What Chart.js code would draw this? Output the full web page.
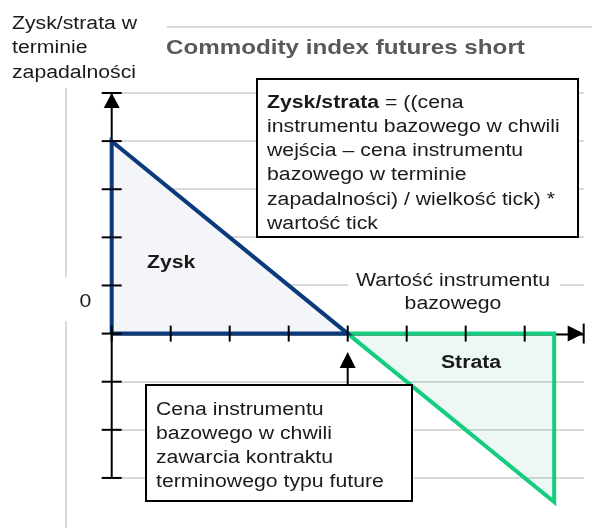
<!DOCTYPE html>
<html>
<head>
<meta charset="utf-8">
<script src="https://cdn.jsdelivr.net/npm/chart.js@4/dist/chart.umd.min.js"></script>
<style>
  html, body { margin: 0; padding: 0; background: #fff; }
  canvas { display: block; }
</style>
</head>
<body>
<canvas id="c" width="594" height="528"></canvas>
<script>
// values
const xTicks = [0, 1, 2, 3, 4, 5, 6, 7, 8];
const yTicks = [-3, -2, -1, 0, 1, 2, 3, 4, 5];
const zyskX = [0, 0, 4, 0];
const zyskY = [0, 4, 0, 0];
const strataX = [4, 7.5, 7.5, 4];
const strataY = [0, 0, -3.5, 0];
const zeroLabel = '0';
const entryPrice = 4; // x of the entry price arrow

const titleText = 'Commodity index futures short';
const yTitle = ['Zysk/strata w', 'terminie', 'zapadalności'];
const xTitle = ['Wartość instrumentu', 'bazowego'];
const formulaBold = 'Zysk/strata';
const formulaLines = [' = ((cena', 'instrumentu bazowego w chwili', 'wejścia – cena instrumentu',
  'bazowego w terminie', 'zapadalności) / wielkość tick) *', 'wartość tick'];
const entryLines = ['Cena instrumentu', 'bazowego w chwili', 'zawarcia kontraktu', 'terminowego typu future'];

const FONT = "'Liberation Sans', Arial, sans-serif";
const SX = 1.18; // the picture is stretched a bit wide
const INK = '#1a1a1a';
const GRID = '#d9d9d9';

function pts(xs, ys) { return xs.map((x, i) => ({x, y: ys[i]})); }

function txt(ctx, s, x, y, size, bold, color, align) {
    ctx.save();
    ctx.font = (bold ? 'bold ' : '') + size + 'px ' + FONT;
    const w = ctx.measureText(s).width * SX;
    let x0 = x;
    if (align === 'center') x0 = x - w / 2;
    ctx.translate(x0, y);
    ctx.scale(SX, 1);
    ctx.fillStyle = color || INK;
    ctx.textBaseline = 'alphabetic';
    ctx.fillText(s, 0, 0);
    ctx.restore();
    return w;
}

function line(ctx, x1, y1, x2, y2, color, w) {
    ctx.beginPath();
    ctx.moveTo(x1, y1);
    ctx.lineTo(x2, y2);
    ctx.strokeStyle = color;
    ctx.lineWidth = w;
    ctx.stroke();
}

function tri(ctx, a, b, c) {
    ctx.beginPath();
    ctx.moveTo(a[0], a[1]); ctx.lineTo(b[0], b[1]); ctx.lineTo(c[0], c[1]);
    ctx.closePath();
    ctx.fillStyle = '#000';
    ctx.fill();
}

const decor = {
    id: 'decor',
    beforeDatasetsDraw(chart) {
        const ctx = chart.ctx;
        const xs = chart.scales.x, ys = chart.scales.y;
        const x0 = xs.getPixelForValue(0);
        const y0 = ys.getPixelForValue(0);
        ctx.save();
        // axes
        line(ctx, x0, ys.getPixelForValue(yTicks[yTicks.length - 1]), x0, ys.getPixelForValue(yTicks[0]), '#000', 2);
        line(ctx, x0, y0 + 1, xs.getPixelForValue(xTicks[xTicks.length - 1]), y0 + 1, '#000', 2);
        ctx.restore();
    },
    afterDatasetsDraw(chart) {
        const ctx = chart.ctx;
        const xs = chart.scales.x, ys = chart.scales.y;
        const x0 = xs.getPixelForValue(0);
        const y0 = ys.getPixelForValue(0);
        const xEnd = xs.getPixelForValue(xTicks[xTicks.length - 1]);
        const yTop = ys.getPixelForValue(yTicks[yTicks.length - 1]);
        ctx.save();

        // left & top light lines
        line(ctx, 66, 88, 66, 277, GRID, 2);
        line(ctx, 66, 321, 66, 528, GRID, 2);
        line(ctx, 167, 27, 592, 27, GRID, 2);

        // tick marks
        yTicks.forEach(v => {
            const y = ys.getPixelForValue(v);
            line(ctx, x0 - 10, y, x0 + 10, y, '#000', 2);
        });
        xTicks.forEach((v, i) => {
            const x = xs.getPixelForValue(v);
            const h = i === xTicks.length - 1 ? 10 : 8;
            line(ctx, x, y0 - h, x, y0 + h, '#000', 2);
        });

        // arrow heads
        tri(ctx, [x0, yTop], [x0 - 8, yTop + 15], [x0 + 8, yTop + 15]);
        tri(ctx, [xEnd, y0], [xEnd - 16, y0 - 8], [xEnd - 16, y0 + 8]);

        // titles
        txt(ctx, titleText, 166, 54, 20.5, true, '#595959');
        yTitle.forEach((s, i) => txt(ctx, s, 12, 29 + i * 24.4, 18));

        // zero label
        txt(ctx, zeroLabel, 85.5, y0 - 27, 18, false, INK, 'center');

        // region labels
        txt(ctx, 'Zysk', 147, 268, 18, true);
        txt(ctx, 'Strata', 471, 368, 18, true, INK, 'center');

        // x axis caption on white
        ctx.fillStyle = '#fff';
        ctx.fillRect(348, 268, 212, 44);
        txt(ctx, xTitle[0], 453, 286, 18, false, INK, 'center');
        txt(ctx, xTitle[1], 453, 309, 18, false, INK, 'center');

        // formula box
        ctx.fillStyle = '#fff';
        ctx.fillRect(257, 79, 321, 158);
        ctx.strokeStyle = '#000';
        ctx.lineWidth = 2;
        ctx.strokeRect(257, 79, 321, 158);
        const bw = txt(ctx, formulaBold, 267, 107.5, 18, true);
        formulaLines.forEach((s, i) => {
            txt(ctx, s, i === 0 ? 267 + bw : 267, 107.5 + i * 24.3, 18);
        });

        // entry price box with arrow
        const xe = xs.getPixelForValue(entryPrice);
        line(ctx, xe, 385, xe, 366, '#000', 2);
        tri(ctx, [xe, 352], [xe - 8, 368], [xe + 8, 368]);
        ctx.fillStyle = '#fff';
        ctx.fillRect(146, 385, 266, 116);
        ctx.strokeStyle = '#000';
        ctx.lineWidth = 2;
        ctx.strokeRect(146, 385, 266, 116);
        entryLines.forEach((s, i) => txt(ctx, s, 156, 415 + i * 24, 18));

        ctx.restore();
    }
};

new Chart(document.getElementById('c'), {
    type: 'scatter',
    data: {
        datasets: [
            {
                label: 'Zysk',
                data: pts(zyskX, zyskY),
                showLine: true,
                borderColor: '#0b3a7c',
                backgroundColor: '#f3f5f9',
                borderWidth: 4,
                borderJoinStyle: 'miter',
                fill: 'shape',
                clip: false,
                pointRadius: 0,
                tension: 0
            },
            {
                label: 'Strata',
                data: pts(strataX, strataY),
                showLine: true,
                borderColor: '#14cd7e',
                backgroundColor: 'rgba(30, 170, 110, 0.08)',
                borderWidth: 4,
                borderJoinStyle: 'miter',
                fill: 'shape',
                clip: false,
                pointRadius: 0,
                tension: 0
            }
        ]
    },
    options: {
        responsive: false,
        animation: false,
        devicePixelRatio: 1,
        layout: { padding: { left: 111.7, right: 10.3, top: 93, bottom: 26 } },
        plugins: { legend: { display: false }, tooltip: { enabled: false } },
        scales: {
            x: { type: 'linear', min: 0, max: 8, display: false },
            y: {
                type: 'linear', min: -3.5, max: 5,
                afterBuildTicks: s => { s.ticks = yTicks.map(v => ({value: v})); },
                ticks: { display: false },
                border: { display: false },
                grid: { color: GRID, lineWidth: 2, drawTicks: false }
            }
        }
    },
    plugins: [decor]
});
</script>
</body>
</html>
